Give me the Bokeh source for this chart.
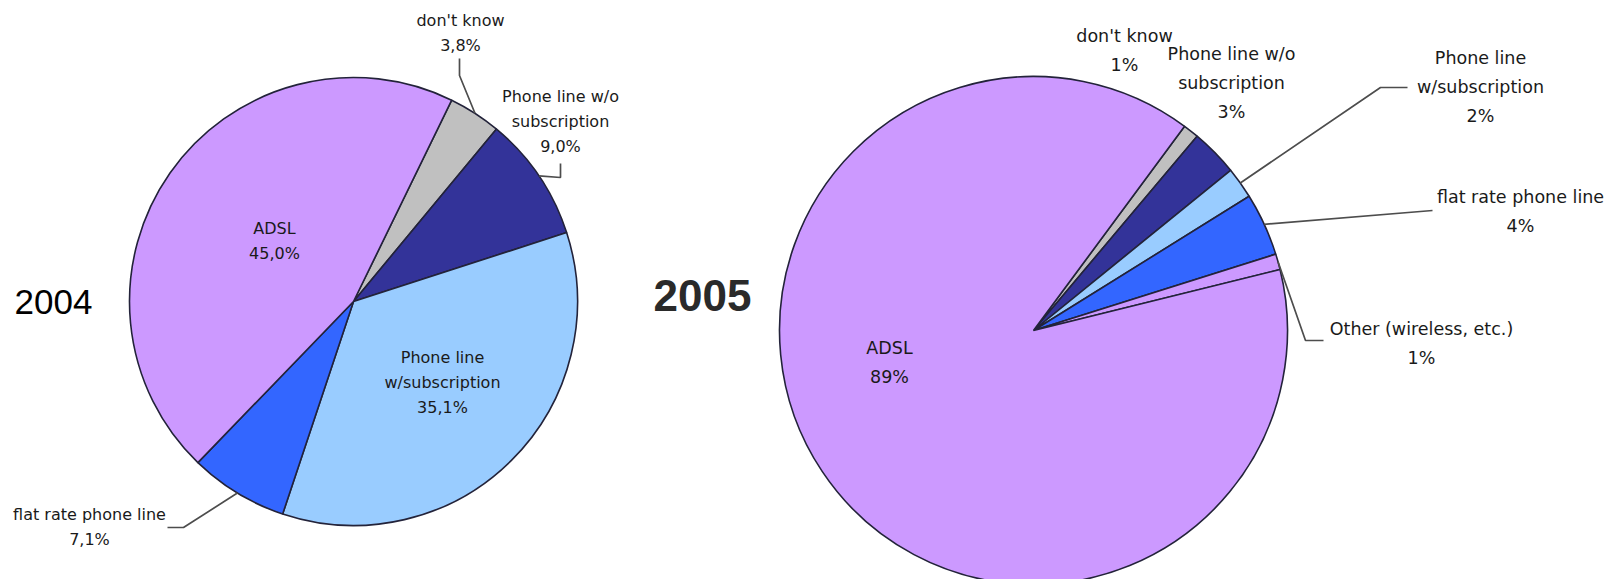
import math

from bokeh.plotting import figure
from bokeh.models import Range1d, ColumnDataSource
from bokeh.embed import file_html
from bokeh.resources import INLINE
from bokeh.core.properties import value

W, H = 1614, 579

# Internet access type, 2004 survey (percent)
cats_2004 = ["don't know", "Phone line w/o\nsubscription", "Phone line\nw/subscription",
             "flat rate phone line", "ADSL"]
vals_2004 = [3.8, 9.0, 35.1, 7.1, 45.0]

# Internet access type, 2005 survey (percent)
cats_2005 = ["don't know", "Phone line w/o\nsubscription", "Phone line\nw/subscription",
             "flat rate phone line", "Other (wireless, etc.)", "ADSL"]
vals_2005 = [1, 3, 2, 4, 1, 89]

years = ["2004", "2005"]

slice_colors = {
    "don't know": "#C0C0C0",
    "Phone line w/o\nsubscription": "#333399",
    "Phone line\nw/subscription": "#99CCFF",
    "flat rate phone line": "#3366FF",
    "Other (wireless, etc.)": "#CC99FF",
    "ADSL": "#CC99FF",
}

FONT = value("DejaVu Sans")

p = figure(width=W, height=H, x_range=Range1d(0, W), y_range=Range1d(0, H),
           x_axis_type=None, y_axis_type=None, output_backend="svg",
           toolbar_location=None, min_border=0)
p.grid.visible = False
p.outline_line_color = None
p.background_fill_color = "white"
p.border_fill_color = "white"


def sy(v):
    """Convert a top-down pixel row into the figure's upward y axis."""
    return H - v


def draw_pie(cats, vals, cx, cy, r, start_deg, pct_fmt, layout, font_px, spacing):
    total = float(sum(vals))
    cum = start_deg
    starts, ends, mids = [], [], []
    for v in vals:
        span = 360.0 * v / total
        a0, a1 = cum, cum + span
        # clockwise-from-top degrees -> counter-clockwise radians from +x
        starts.append(math.radians(90 - a1))
        ends.append(math.radians(90 - a0))
        mids.append(a0 + span / 2)
        cum = a1

    src = ColumnDataSource(dict(
        x=[cx] * len(vals), y=[sy(cy)] * len(vals),
        start=starts, end=ends,
        color=[slice_colors[c] for c in cats],
    ))
    p.wedge(x="x", y="y", radius=r, start_angle="start", end_angle="end",
            direction="anticlock", fill_color="color", line_color="#23233a",
            line_width=1.6, source=src)

    tx, ty, tt = [], [], []
    for cat, v, mid in zip(cats, vals, mids):
        (ax, ay), bends = layout[cat]
        lines = cat.split("\n") + [pct_fmt(v)]
        for i, ln in enumerate(lines):
            tx.append(ax)
            ty.append(sy(ay + i * spacing))
            tt.append(ln)
        if bends:
            th = math.radians(mid)
            ex = cx + r * math.sin(th)
            ey = cy - r * math.cos(th)
            xs = [ex] + [b[0] for b in bends]
            ys = [sy(ey)] + [sy(b[1]) for b in bends]
            p.line(xs, ys, line_color="#4d4d4d", line_width=1.7)

    p.text(x=tx, y=ty, text=tt, text_font=FONT, text_font_size=f"{font_px}px",
           text_color="#1a1a1a", text_align="center", text_baseline="middle")


def pct_decimal(v):
    return f"{v:.1f}".replace(".", ",") + "%"


def pct_int(v):
    return f"{v:.0f}%"


# label anchor (centre of first line) and leader bend points, in page pixels
layout_2004 = {
    "don't know": ((460, 20), [(459, 75), (459, 58)]),
    "Phone line w/o\nsubscription": ((560, 96), [(560, 177), (560, 163)]),
    "Phone line\nw/subscription": ((442, 357), None),
    "flat rate phone line": ((89, 514), [(183, 527), (167, 527)]),
    "ADSL": ((274, 228), None),
}

layout_2005 = {
    "don't know": ((1124, 35), None),
    "Phone line w/o\nsubscription": ((1231, 53), None),
    "Phone line\nw/subscription": ((1480, 57), [(1380, 87), (1407, 87)]),
    "flat rate phone line": ((1520, 196), [(1432, 210)]),
    "Other (wireless, etc.)": ((1421, 328), [(1305, 340), (1323, 340)]),
    "ADSL": ((889, 347), None),
}

draw_pie(cats_2004, vals_2004, 353, 301, 224, 26.0, pct_decimal, layout_2004, 16, 25)
draw_pie(cats_2005, vals_2005, 1033, 330, 254, 36.5, pct_int, layout_2005, 17.5, 29)

# year captions
p.text(x=[53], y=[sy(301)], text=[years[0]], text_font=value("Liberation Sans"),
       text_font_size="35px", text_color="#000000", text_align="center",
       text_baseline="middle")
p.text(x=[702], y=[sy(295)], text=[years[1]], text_font=value("Liberation Sans"),
       text_font_size="44px", text_font_style="bold", text_color="#2a2a2a",
       text_align="center", text_baseline="middle")

open("out.html", "w").write(file_html(p, INLINE))
